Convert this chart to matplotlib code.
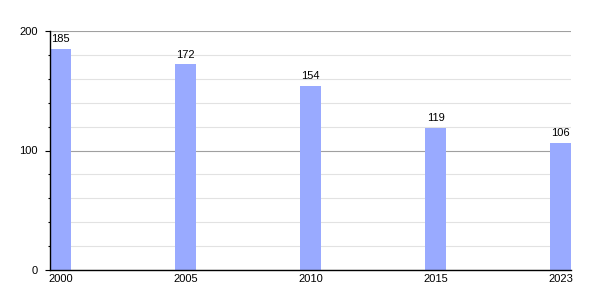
import matplotlib
matplotlib.use("Agg")
import matplotlib.pyplot as plt
from matplotlib.ticker import MultipleLocator

plt.rcParams["font.family"] = ["Liberation Sans", "DejaVu Sans"]

years = ["2000", "2005", "2010", "2015", "2023"]
values = [185, 172, 154, 119, 106]

fig = plt.figure(figsize=(6, 3), dpi=100)
ax = fig.add_axes([50/600, 0.1, 521/600, 239/300])
x = list(range(len(years)))
w = 0.168
ax.bar(x, values, width=w, color="#99aaff", zorder=2)
for xi, v in zip(x, values):
    ax.annotate(str(v), (xi, v), xytext=(0, 3.5), textcoords="offset points",
                ha="center", va="bottom", fontsize=8, color="black")
ax.set_xlim(-w/2, len(years) - 1 + w/2)
ax.set_ylim(0, 200)
ax.set_xticks(x)
ax.set_xticklabels(years, fontsize=8)
ax.tick_params(axis="x", length=0, pad=3)
ax.yaxis.set_major_locator(MultipleLocator(100))
ax.yaxis.set_minor_locator(MultipleLocator(20))
ax.tick_params(axis="y", which="major", length=3.3, width=0.8, labelsize=8, pad=5.5)
ax.tick_params(axis="y", which="minor", length=1.8, width=0.8)
ax.grid(axis="y", which="minor", color="#e2e2e2", linewidth=0.8, zorder=0)
ax.grid(axis="y", which="major", color="#a0a0a0", linewidth=0.8, zorder=1)
ax.set_axisbelow(True)
for s in ["top", "right"]:
    ax.spines[s].set_visible(False)
ax.spines["left"].set_linewidth(1)
ax.spines["bottom"].set_linewidth(1)
fig.savefig("out.png", dpi=100)
